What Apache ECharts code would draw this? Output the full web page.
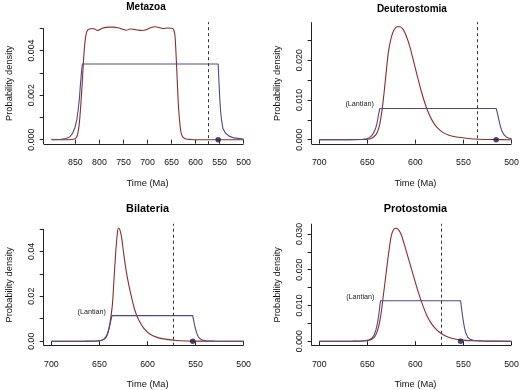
<!DOCTYPE html>
<html><head><meta charset="utf-8">
<script src="https://cdn.jsdelivr.net/npm/echarts@6/dist/echarts.min.js"></script>
<style>html,body{margin:0;padding:0;background:#fff}#c{width:520px;height:390px}</style>
</head><body><div id="c"></div>
<script>
// ---------- data (time in Ma, probability density) ----------
const panelTitles = ['Metazoa', 'Deuterostomia', 'Bilateria', 'Protostomia'];

const metazoaRed = [[900,0],[870,0],[858,0.00001],[852,0.00003],[848,0.0001],[845,0.00028],[842,0.0007],[839,0.0015],[836,0.0025],[833,0.0036],[830,0.0044],[827,0.0048],[824,0.00493],[820,0.00497],[815,0.00499],[810,0.00497],[804,0.0049],[798,0.00496],[790,0.00503],[780,0.00505],[770,0.00505],[762,0.00502],[752,0.00496],[744,0.00491],[736,0.00497],[728,0.00495],[720,0.00492],[712,0.0049],[703,0.00493],[694,0.00502],[686,0.00507],[678,0.00505],[668,0.00499],[658,0.00501],[650,0.005],[646,0.00496],[643,0.0047],[640.5,0.0038],[638,0.0026],[635.5,0.0015],[633,0.0008],[630,0.0003],[626,0.0001],[620,0.00003],[610,0.00001],[600,0],[500,0]];
const metazoaBlue = [[900,0.00001],[880,0.00002],[870,0.00005],[862,0.00012],[856,0.00028],[851,0.00055],[847,0.0009],[844,0.0014],[841.5,0.0019],[839.5,0.0025],[837.5,0.003],[835.5,0.0034],[553,0.0034],[551.5,0.0027],[550,0.002],[548,0.0013],[546,0.0009],[543,0.0005],[538,0.0003],[530,0.00016],[520,0.00008],[500,0.00003]];

const deuteroRed = [[700,0],[665,0],[655,0.00003],[650,0.0001],[646,0.0003],[643,0.0008],[640,0.0017],[637,0.004],[634,0.0088],[631,0.0155],[628,0.0222],[625,0.0258],[622,0.0277],[619,0.0284],[616,0.0284],[613,0.0278],[610,0.0264],[606,0.0236],[602,0.0198],[598,0.016],[594,0.0123],[590,0.0091],[586,0.0065],[582,0.0046],[578,0.0032],[572,0.0019],[565,0.0011],[555,0.0006],[545,0.0003],[535,0.00012],[520,0.00003],[500,0]];
const deuteroBlue = [[700,0],[670,0.00001],[660,0.00004],[655,0.0001],[651,0.00025],[648,0.0005],[645.5,0.001],[643.5,0.0017],[641.5,0.0028],[640,0.0041],[638.8,0.0057],[637.8,0.007],[637,0.00785],[516,0.00785],[514.5,0.0065],[513,0.0048],[511.5,0.0033],[510,0.0022],[508,0.0013],[505.5,0.0007],[503,0.0004],[500,0.0002]];

const bilateriaRed = [[700,0],[660,0],[652,0.0001],[648,0.0003],[645,0.0009],[642.5,0.0022],[640.5,0.0048],[638.5,0.0095],[636.5,0.0165],[634.5,0.03],[633,0.04],[631.5,0.0475],[630.3,0.0503],[628.8,0.0497],[627,0.0463],[625,0.0398],[622.5,0.0322],[620,0.0262],[617,0.0203],[614,0.015],[611,0.0112],[608,0.0085],[604,0.0058],[598,0.0033],[590,0.0017],[580,0.0008],[570,0.0003],[560,0.0001],[545,0.00002],[530,0],[500,0]];
const bilateriaBlue = [[700,0],[665,0.00001],[657,0.00005],[652,0.00015],[648,0.0004],[645.5,0.0009],[643.5,0.0018],[641.8,0.0032],[640.3,0.0052],[639,0.0075],[637.8,0.0098],[637,0.01136],[553,0.01136],[551.8,0.0088],[550.5,0.0062],[549,0.0038],[547.5,0.0022],[545.5,0.0011],[543,0.0005],[539,0.0002],[530,0.00005],[500,0]];

const protoRed = [[700,0],[662,0],[654,0.00005],[649,0.0002],[645,0.0006],[641.5,0.0016],[638.5,0.0038],[636,0.0072],[633.5,0.0125],[631,0.0178],[628,0.0243],[625,0.0296],[622.5,0.0313],[620.3,0.0316],[618,0.0313],[615,0.03],[612,0.0275],[608,0.0238],[604,0.0201],[600,0.0164],[596,0.0129],[592,0.0098],[588,0.0071],[584,0.0052],[580,0.0038],[575,0.0025],[568,0.0014],[560,0.0007],[550,0.0003],[540,0.0001],[525,0.00002],[500,0]];
const protoBlue = [[700,0],[665,0.00001],[657,0.00005],[652,0.00015],[648,0.0004],[645,0.0009],[642.8,0.0018],[641,0.0032],[639.5,0.005],[638.2,0.0072],[637.2,0.0094],[636.3,0.0113],[553,0.0113],[551.8,0.0088],[550.5,0.0062],[549,0.0038],[547.5,0.0022],[545.5,0.0011],[543,0.0005],[539,0.0002],[530,0.00005],[500,0]];

const dashedTimes = [573, 536, 573, 573];       // vertical reference lines
const dotTimes = [553, 516, 553, 553];          // dots on the time axis (density 0)
const lantianText = [null, '(Lantian)', '(Lantian)', '(Lantian)'];

const xTicks = [
  [850, 800, 750, 700, 650, 600, 550, 500],
  [700, 650, 600, 550, 500],
  [700, 650, 600, 550, 500],
  [700, 650, 600, 550, 500]
];
const yTicks = [
  [0, 0.001, 0.002, 0.003, 0.004, 0.005],
  [0, 0.005, 0.010, 0.015, 0.020, 0.025],
  [0, 0.01, 0.02, 0.03, 0.04, 0.05],
  [0, 0.005, 0.010, 0.015, 0.020, 0.025, 0.030]
];
const yLabels = [
  [0, 0.002, 0.004],
  [0, 0.010, 0.020],
  [0, 0.02, 0.04],
  [0, 0.010, 0.020, 0.030]
];
const yDecimals = [3, 3, 2, 3];

// ---------- layout / style ----------
const reds = [metazoaRed, deuteroRed, bilateriaRed, protoRed];
const blues = [metazoaBlue, deuteroBlue, bilateriaBlue, protoBlue];
const gridLeft = [43.7, 311.6, 43.7, 311.6];
const gridTop = [22.2, 22.2, 223.7, 223.7];
const GW = 207.6, GH = 122;
const titleTop = [2.6, 3.8, 203.2, 203.2];
const titleCenterShift = [-1.5, -3.5, 0, 0];
const titleSize = [10, 10, 10.9, 10.9];
const yLineToPlotTop = [false, true, false, true];
const FONT = "'Liberation Sans', Arial, Helvetica, sans-serif";
const RED = '#8e2b2b', BLUE = '#4a4a8c', AXIS = '#222';

const grids = [], xAxes = [], yAxes = [], series = [], titles = [];

for (let i = 0; i < 4; i++) {
  const all = reds[i].concat(blues[i]);
  const ts = all.map(p => p[0]), ds = all.map(p => p[1]);
  const tMin = Math.min(...ts), tMax = Math.max(...ts);
  const dMin = Math.min(0, ...ds), dMax = Math.max(...ds);
  const tPad = 0.04 * (tMax - tMin), dPad = 0.04 * (dMax - dMin);
  const xLo = tMin - tPad, xHi = tMax + tPad, yLo = dMin - dPad, yHi = dMax + dPad;
  const dec = yDecimals[i];

  grids.push({left: gridLeft[i], top: gridTop[i], width: GW, height: GH, containLabel: false, outerBoundsMode: 'none'});
  titles.push({
    text: panelTitles[i], left: gridLeft[i] + GW / 2 + titleCenterShift[i], top: titleTop[i], textAlign: 'center', padding: 0,
    textStyle: {fontFamily: FONT, fontWeight: 'bold', fontSize: titleSize[i], color: '#000'}
  });
  xAxes.push({
    gridIndex: i, type: 'value', min: xLo, max: xHi, inverse: true,
    axisLine: {show: false}, splitLine: {show: false},
    axisTick: {show: true, customValues: xTicks[i], length: 4, lineStyle: {color: AXIS, width: 1}},
    axisLabel: {show: true, customValues: xTicks[i], margin: 14, fontFamily: FONT, fontSize: 8.8, color: '#111'},
    name: 'Time (Ma)', nameLocation: 'middle', nameGap: 34.5,
    nameTextStyle: {fontFamily: FONT, fontSize: 9.3, color: '#111'}
  });
  yAxes.push({
    gridIndex: i, type: 'value', min: yLo, max: yHi,
    axisLine: {show: false}, splitLine: {show: false},
    axisTick: {show: true, customValues: yTicks[i], length: 4, lineStyle: {color: AXIS, width: 1}},
    axisLabel: {show: true, customValues: yLabels[i], rotate: 90, margin: 8, fontFamily: FONT, fontSize: 8.8, color: '#111',
      formatter: v => Number(v).toFixed(dec)},
    name: 'Probability density', nameLocation: 'middle', nameGap: 29.5,
    nameTextStyle: {fontFamily: FONT, fontSize: 9.3, color: '#111'}
  });

  series.push({
    type: 'line', xAxisIndex: i, yAxisIndex: i, data: reds[i], showSymbol: false, smooth: 0.3,
    lineStyle: {color: RED, width: 1.1}, silent: true, animation: false, z: 2
  });

  // plateau start of the blue curve for the (Lantian) note
  const bMax = Math.max(...blues[i].map(p => p[1]));
  const start = blues[i].find(p => p[1] === bMax);
  const bSeries = {
    type: 'line', xAxisIndex: i, yAxisIndex: i, data: blues[i], showSymbol: false, smooth: false,
    lineStyle: {color: BLUE, width: 1.1}, silent: true, animation: false, z: 3
  };
  if (lantianText[i]) {
    bSeries.markPoint = {
      silent: true, animation: false, symbol: 'circle', symbolSize: 0.01,
      itemStyle: {color: 'rgba(0,0,0,0)'},
      label: {show: true, position: 'left', distance: 6, offset: [0, -4], formatter: lantianText[i],
        fontFamily: FONT, fontSize: 7.2, color: '#222'},
      data: [{coord: [start[0], start[1]]}]
    };
  }
  series.push(bSeries);

  const yLineTop = yLineToPlotTop[i] ? yHi : yTicks[i][yTicks[i].length - 1];
  const xEnd = xTicks[i][xTicks[i].length - 1];
  series.push({
    type: 'scatter', xAxisIndex: i, yAxisIndex: i, data: [[dotTimes[i], 0]],
    symbol: 'circle', symbolSize: 5.5, itemStyle: {color: '#1b1b4f'}, silent: true, animation: false, z: 5, clip: false,
    markLine: {
      silent: true, animation: false, symbol: ['none', 'none'], label: {show: false},
      data: [
        {xAxis: dashedTimes[i], lineStyle: {color: '#333', width: 1, type: [3, 3]}},
        [{coord: [xHi, yLo], lineStyle: {color: AXIS, width: 1, type: 'solid'}}, {coord: [xEnd, yLo]}],
        [{coord: [xHi, yLo], lineStyle: {color: AXIS, width: 1, type: 'solid'}}, {coord: [xHi, yLineTop]}]
      ]
    }
  });
}

const chart = echarts.init(document.getElementById('c'), null, {renderer: 'canvas'});
chart.setOption({
  backgroundColor: '#fff', animation: false,
  title: titles, grid: grids, xAxis: xAxes, yAxis: yAxes, series: series
});
</script></body></html>
